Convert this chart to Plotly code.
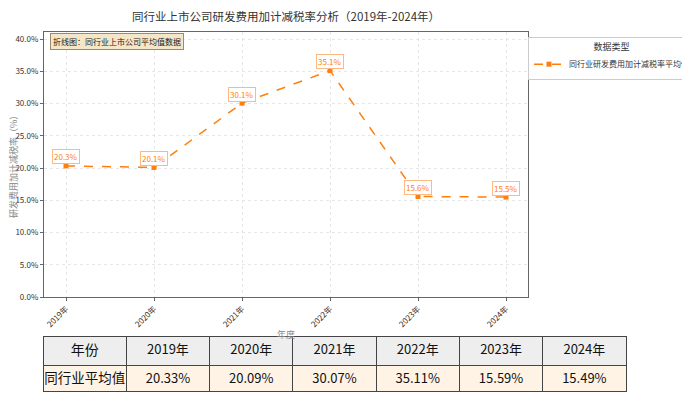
import plotly.graph_objects as go

years = ["2019年", "2020年", "2021年", "2022年", "2023年", "2024年"]
values = [20.33, 20.09, 30.07, 35.11, 15.59, 15.49]
series_name = "同行业研发费用加计减税率平均值"
title_text = "同行业上市公司研发费用加计减税率分析（2019年-2024年）"
note_text = "折线图：同行业上市公司平均值数据"
row_label = "同行业平均值"
header_label = "年份"
y_title = "研发费用加计减税率（%）"
x_title = "年度"

ORANGE = "#ff7f0e"
FONT = "Noto Sans CJK SC"

# page offset (body margin) compensation
OFF = 8
W, H = 690 - OFF, 398 - OFF

def X(px):
    return px - OFF

def Y(px):
    return px - OFF

ML, MR, MT, MB = X(43), 690 - 626, Y(32), 398 - 392
pw = W - ML - MR
ph = H - MT - MB
tab_t, tab_b = Y(337), Y(392)

def px_x(px):
    return (X(px) - ML) / pw

def px_y(px):
    return (H - MB - Y(px)) / ph

fig = go.Figure()
fig.add_trace(go.Scatter(
    x=years, y=values, mode="lines+markers", name=series_name,
    line=dict(color=ORANGE, width=1.5, dash="dash"),
    marker=dict(symbol="square", size=5, color=ORANGE),
    xaxis="x", yaxis="y",
))

for yv, v in zip(years, values):
    fig.add_annotation(
        x=yv, y=v, xref="x", yref="y", text=f"{v:.1f}%", showarrow=False,
        yshift=9, font=dict(size=8, color=ORANGE, family=FONT),
        bgcolor="white", bordercolor="#ffb880", borderwidth=1, borderpad=1,
    )

fig.add_annotation(
    x=px_x(50), y=px_y(41), xref="paper", yref="paper",
    xanchor="left", yanchor="middle", text=note_text, showarrow=False,
    font=dict(size=8, color="#222", family=FONT),
    bgcolor="#f5e6c8", bordercolor="#9a8c6a", borderwidth=1, borderpad=2,
)

fig.add_annotation(
    x=px_x(286), y=px_y(334), xref="paper", yref="paper",
    xanchor="center", yanchor="middle", text=x_title, showarrow=False,
    font=dict(size=9, color="#888", family=FONT),
)

fig.add_annotation(
    x=px_x(13), y=px_y(165), xref="paper", yref="paper",
    xanchor="center", yanchor="middle", text=y_title, showarrow=False,
    textangle=-90, font=dict(size=9, color="#888", family=FONT),
)

fig.add_annotation(
    x=px_x(286), y=px_y(16), xref="paper", yref="paper",
    xanchor="center", yanchor="middle", text=title_text, showarrow=False,
    font=dict(size=11.5, color="#333", family=FONT),
)

header_vals = [header_label] + years
cell_vals = [[row_label]] + [[f"{v:.2f}%"] for v in values]

fig.add_trace(go.Table(
    domain=dict(x=[0, 1], y=[0, (tab_b - tab_t + 1) / ph]),
    columnwidth=[1] * 7,
    header=dict(
        values=header_vals, fill_color="#eeeeee", line_color="#444",
        align="center", height=29,
        font=dict(size=[14] + [13] * 6, color="#111", family=FONT),
    ),
    cells=dict(
        values=cell_vals, fill_color="#fff3e6", line_color="#444",
        align="center", height=26,
        font=dict(size=[13.5] + [13] * 6, color="#111", family=FONT),
    ),
))

fig.update_layout(
    width=W, height=H,
    margin=dict(l=ML, r=MR, t=MT, b=MB, autoexpand=False),
    paper_bgcolor="white", plot_bgcolor="white",
    font=dict(family=FONT, size=8, color="#333"),
    xaxis=dict(
        domain=[px_x(44), px_x(528)],
        range=[-0.25, 5.25], tickangle=-45, tickfont=dict(size=8, color="#333"),
        showgrid=True, gridcolor="#e6e6e6", griddash="dot", gridwidth=1,
        showline=True, linecolor="#666", linewidth=1.2, mirror=True,
        ticks="outside", ticklen=3, tickcolor="#666",
        zeroline=False, automargin=False,
    ),
    yaxis=dict(
        domain=[px_y(297), 1],
        range=[0, 41.1], dtick=5, tickformat=".1f", ticksuffix="%",
        tickfont=dict(size=8, color="#333"),
        showgrid=True, gridcolor="#e6e6e6", griddash="dot", gridwidth=1,
        showline=True, linecolor="#666", linewidth=1.2, mirror=True,
        ticks="outside", ticklen=3, tickcolor="#666",
        zeroline=False, automargin=False,
    ),
    showlegend=True,
    legend=dict(
        x=px_x(528), y=px_y(37), xanchor="left", yanchor="top",
        title=dict(text="数据类型", side="top center", font=dict(size=9, color="#333")),
        font=dict(size=8, color="#333"), bordercolor="#cccccc", borderwidth=1,
        bgcolor="white", itemwidth=30,
    ),
)

fig.write_html("out.html")
